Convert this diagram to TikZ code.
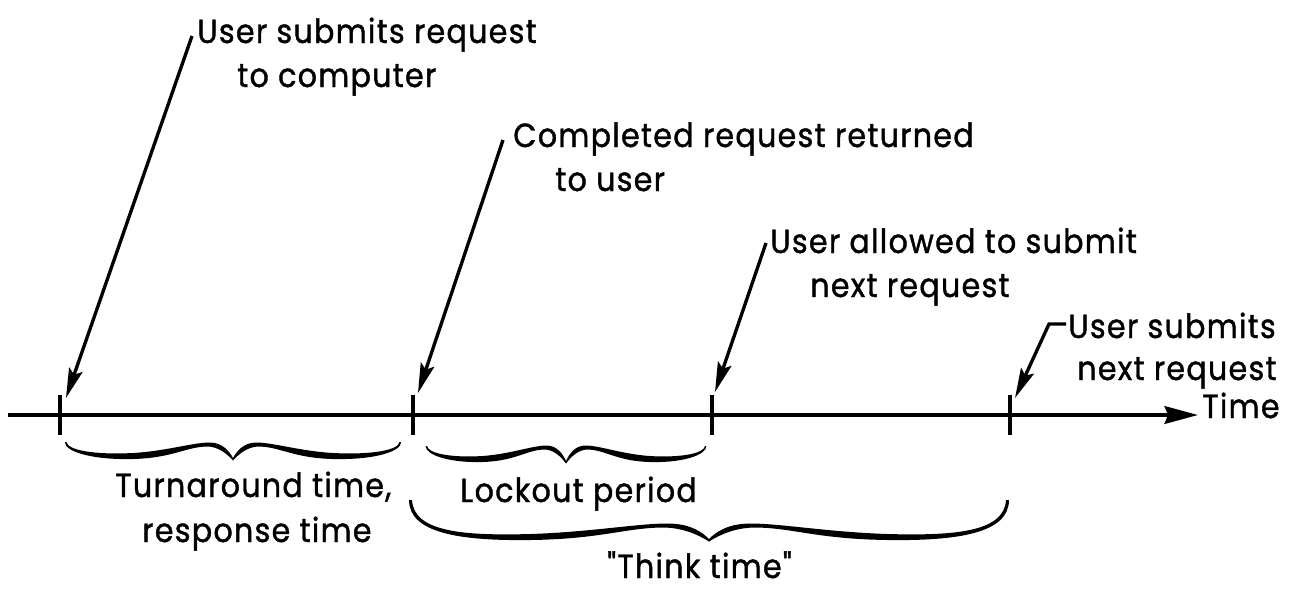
\documentclass[tikz,border=0pt]{standalone}
\usepackage{fontspec}
\usetikzlibrary{arrows.meta}
\newfontfamily\labelfont[FakeStretch=0.9, LetterSpace=4, FakeBold=1.2]{Poppins}

% one curly brace under the time line, origin at the cusp
\tikzset{
  pics/timebrace/.style={code={
    \foreach \s in {1,-1}
    \fill[xscale=\s] (-0.5,-#1) .. controls (-0.497,6) and (-0.42,11) .. (-0.3,9)
      .. controls (-0.2,7) and (-0.12,-1.5) .. (-0.07,-1.5)
      .. controls (-0.03,-1.5) and (-0.01,8) .. (0,14)
      -- (0,16.5)
      .. controls (-0.02,9) and (-0.045,3) .. (-0.075,2.5)
      .. controls (-0.14,2.5) and (-0.18,14) .. (-0.3,15)
      .. controls (-0.42,16) and (-0.505,8) .. (-0.505,-#1) -- cycle;
  }},
}

\begin{document}
\begin{tikzpicture}[x=0.02cm, y=-0.02cm,
  caption/.style={font=\labelfont\fontsize{19}{22}\selectfont, inner sep=0pt, anchor=base west},
  pointer/.style={line width=1.9pt, -{Stealth[length=17pt, width=8pt, inset=3pt]}},
  tickmark/.style={line width=2pt},
  timeline/.style={line width=2.2pt, -{Stealth[length=19pt, width=10pt, inset=2pt]}}]
\useasboundingbox (0,0) rectangle (1290,592);

% time axis and tick marks
\coordinate (t0) at (8,415);
\coordinate (t1) at (60,415);
\coordinate (t2) at (413,415);
\coordinate (t3) at (712,415);
\coordinate (t4) at (1010,415);
\coordinate (tend) at (1198,415);
\draw[timeline] (t0) -- (tend);
\foreach \t in {t1,t2,t3,t4}
  \draw[tickmark] (\t) ++(0,-20) -- ++(0,40);
\node[caption] (time) at (1202,418) {Time};

% events above the line
\node[caption] (req) at (197,43) {User submits request};
\node[caption] (reqb) at (237,87) {to computer};
\node[caption] (ret) at (513,147) {Completed request returned};
\node[caption] (retb) at (555,191) {to user};
\node[caption] (allow) at (770,253) {User allowed to submit};
\node[caption] (allowb) at (810,297) {next request};
\node[caption] (next) at (1068,338) {User submits};
\node[caption] (nextb) at (1077,380) {next request};

\draw[pointer] ([shift={(-5,-7)}]req.base west) -- ([shift={(6,-17)}]t1);
\draw[pointer] ([shift={(-10,-7)}]ret.base west) -- ([shift={(5,-22)}]t2);
\draw[pointer] ([shift={(-4,-10)}]allow.base west) -- ([shift={(3,-23)}]t3);
\draw[pointer] ([shift={(-2,-14)}]next.base west) -- ++(-17,0) -- ([shift={(5,-17)}]t4);

% periods below the line
\pic[xscale=333] at (233,444) {timebrace=2};
\pic[xscale=278] at (566,447) {timebrace=1};
\pic[xscale=594] at (709,525) {timebrace=25};

\node[caption] (turn) at (115,497) {Turnaround time,};
\node[caption] (turnb) at (142,542) {response time};
\node[caption] (lock) at (460,502) {Lockout period};
\node[caption] (think) at (607,578) {"Think time"};
\end{tikzpicture}
\end{document}
